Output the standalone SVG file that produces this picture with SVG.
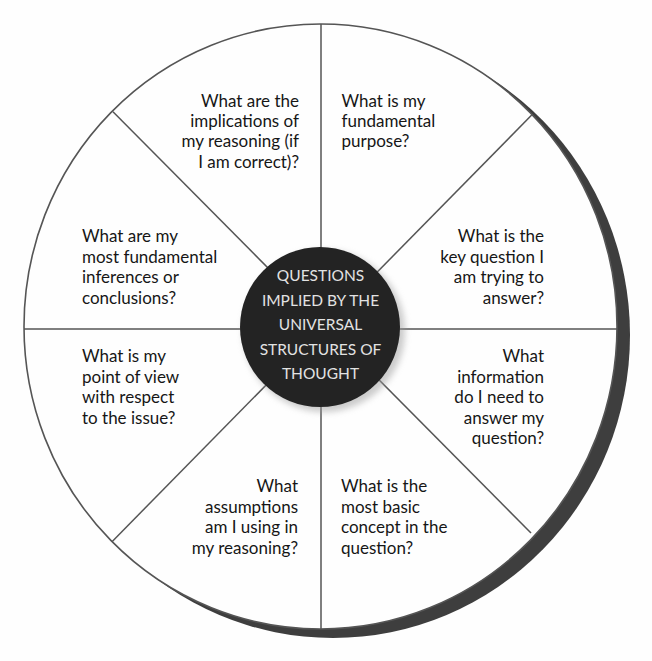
<svg xmlns="http://www.w3.org/2000/svg" width="652" height="661" viewBox="0 0 652 661">
<defs>
<style>
.q{font-family:Lato,"Liberation Sans",sans-serif;font-size:17px;fill:#161616}
.r{text-anchor:end}
.c{font-family:Lato,"Liberation Sans",sans-serif;font-size:15.5px;fill:#e2e2e2;text-anchor:middle}
.spoke{stroke:#555;stroke-width:1.5;fill:none}
</style>
<filter id="glow" x="-30%" y="-30%" width="160%" height="160%"><feGaussianBlur stdDeviation="3"/></filter>
</defs>
<rect width="652" height="661" fill="#fefefe"/>
<g id="wheel">
<ellipse cx="333" cy="335" rx="297" ry="303" fill="#3e3e3e"/>
<ellipse cx="320.5" cy="326.5" rx="296.5" ry="302.5" fill="#fefefe" stroke="#555" stroke-width="1.6"/>
</g>
<g id="connectors">
<line class="spoke" x1="321" y1="24" x2="321" y2="629"/>
<line class="spoke" x1="24" y1="329" x2="617" y2="329"/>
<line class="spoke" x1="531.7" y1="115" x2="112" y2="541.7"/>
<line class="spoke" x1="113" y1="111.7" x2="531" y2="533"/>
</g>
<g id="center">
<circle cx="324" cy="331" r="81" fill="#999" opacity="0.5" filter="url(#glow)"/>
<circle cx="320" cy="327" r="80" fill="#232323"/>
<text class="c" x="320.5" y="281">QUESTIONS</text>
<text class="c" x="320.5" y="305.5">IMPLIED BY THE</text>
<text class="c" x="320.5" y="330">UNIVERSAL</text>
<text class="c" x="320.5" y="354.5">STRUCTURES OF</text>
<text class="c" x="320.5" y="379">THOUGHT</text>
</g>
<g id="implications">
<text class="q r" x="299" y="106.5">What are the</text>
<text class="q r" x="299" y="126.9">implications of</text>
<text class="q r" x="299" y="147.3">my reasoning (if</text>
<text class="q r" x="299" y="167.7">I am correct)?</text>
</g>
<g id="purpose">
<text class="q" x="341.5" y="106.5">What is my</text>
<text class="q" x="341.5" y="126.9">fundamental</text>
<text class="q" x="341.5" y="147.3">purpose?</text>
</g>
<g id="question">
<text class="q r" x="544" y="242.3">What is the</text>
<text class="q r" x="544" y="262.7">key question I</text>
<text class="q r" x="544" y="283.1">am trying to</text>
<text class="q r" x="544" y="303.5">answer?</text>
</g>
<g id="inferences">
<text class="q" x="82" y="242.3">What are my</text>
<text class="q" x="82" y="262.7">most fundamental</text>
<text class="q" x="82" y="283.1">inferences or</text>
<text class="q" x="82" y="303.5">conclusions?</text>
</g>
<g id="pointofview">
<text class="q" x="82" y="362.3">What is my</text>
<text class="q" x="82" y="382.7">point of view</text>
<text class="q" x="82" y="403.1">with respect</text>
<text class="q" x="82" y="423.5">to the issue?</text>
</g>
<g id="information">
<text class="q r" x="544" y="362.3">What</text>
<text class="q r" x="544" y="382.7">information</text>
<text class="q r" x="544" y="403.1">do I need to</text>
<text class="q r" x="544" y="423.5">answer my</text>
<text class="q r" x="544" y="443.9">question?</text>
</g>
<g id="assumptions">
<text class="q r" x="298" y="492.3">What</text>
<text class="q r" x="298" y="512.7">assumptions</text>
<text class="q r" x="298" y="533.1">am I using in</text>
<text class="q r" x="298" y="553.5">my reasoning?</text>
</g>
<g id="concept">
<text class="q" x="341" y="492.3">What is the</text>
<text class="q" x="341" y="512.7">most basic</text>
<text class="q" x="341" y="533.1">concept in the</text>
<text class="q" x="341" y="553.5">question?</text>
</g>
</svg>
